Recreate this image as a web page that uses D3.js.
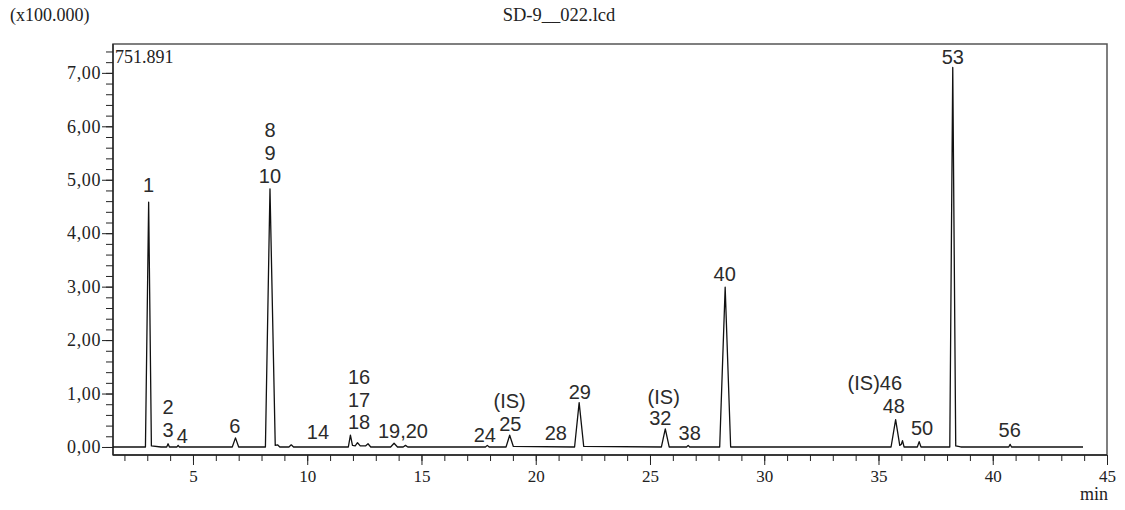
<!DOCTYPE html>
<html><head><meta charset="utf-8">
<script src="https://cdn.jsdelivr.net/npm/d3@7"></script>
<style>
html,body{margin:0;padding:0;background:#fff;}
svg{display:block;}
.ser{font-family:"Liberation Serif","Times New Roman",serif;fill:#222;}
.pk{font-family:"Liberation Sans",Arial,sans-serif;fill:#2b2b2b;}
</style></head>
<body>
<script>
// ---- data ----
const traceTime  = [1.5,2.92,3.06,3.18,3.6,3.85,3.91,3.97,4.3,4.35,4.4,6.72,6.86,7.0,8.17,8.37,8.6,8.7,8.8,9.2,9.3,9.4,11.8,11.89,11.98,12.1,12.2,12.32,12.55,12.66,12.78,13.65,13.8,13.95,14.2,14.3,14.4,17.8,17.88,17.96,18.7,18.86,19.02,21.7,21.9,22.1,25.5,25.67,25.84,26.6,26.67,26.74,28.05,28.29,28.53,35.55,35.75,35.93,36.0,36.05,36.12,36.7,36.78,36.86,38.12,38.25,38.38,38.6,40.7,40.76,40.82,43.95];
const traceValue = [0,0,4.58,0.02,0,0,0.06,0,0,0.03,0,0,0.17,0,0,4.83,0.03,0.04,0,0,0.04,0,0,0.22,0.03,0.02,0.08,0.02,0.02,0.06,0,0,0.07,0,0,0.03,0,0,0.03,0,0,0.22,0.01,0,0.83,0.01,0,0.34,0,0,0.03,0,0,2.99,0,0,0.51,0.03,0.05,0.12,0,0,0.1,0,0,7.1,0.02,0,0,0.05,0,0];
const labelText  = ["1","8","9","10","2","3","4","6","14","16","17","18","19,20","24","(IS)","25","28","29","(IS)","32","38","40","(IS)46","48","50","53","56"];
const labelTime  = [3.06,8.37,8.37,8.37,3.91,3.91,4.53,6.83,10.47,12.27,12.27,12.27,14.19,17.77,18.86,18.89,20.88,21.93,25.6,25.45,26.74,28.27,34.84,35.67,36.91,38.25,40.74];
const labelValue = [4.90,5.93,5.50,5.07,0.75,0.33,0.21,0.39,0.29,1.32,0.89,0.47,0.31,0.22,0.87,0.44,0.27,1.03,0.94,0.55,0.27,3.24,1.20,0.77,0.35,7.30,0.32];
const yMajorTicks = [0,1,2,3,4,5,6,7];
const xMajorTicks = [5,10,15,20,25,30,35,40,45];
const title = "SD-9__022.lcd";
const unitLabel = "(x100.000)";
const maxLabel = "751.891";

// ---- layout ----
const W = 1125, H = 510;
const L = 113, R = 1107, T = 44, B = 455;
const x = d3.scaleLinear().domain([1.5, 45]).range([L, R]);
const y = d3.scaleLinear().domain([-0.15, 7.54]).range([B, T]);

const svg = d3.select("body").append("svg").attr("width", W).attr("height", H);

// frame
svg.append("rect").attr("x", L).attr("y", T).attr("width", R - L).attr("height", B - T)
  .attr("fill", "none").attr("stroke", "#555").attr("stroke-width", 1.5);

// y axis
const yAxisMinor = d3.axisLeft(y).tickValues(d3.range(0, 38).map(i => i * 0.2)).tickSize(7).tickFormat("");
const yAxisMajor = d3.axisLeft(y).tickValues(yMajorTicks).tickSize(11).tickPadding(1)
  .tickFormat(d => d.toFixed(2).replace(".", ","));
const gy1 = svg.append("g").attr("transform", `translate(${L},0)`).call(yAxisMinor);
const gy2 = svg.append("g").attr("transform", `translate(${L},0)`).call(yAxisMajor);
[gy1, gy2].forEach(g => { g.select(".domain").remove(); g.selectAll("line").attr("stroke", "#222"); });
gy2.selectAll("text").attr("class", "ser").attr("font-size", 18).attr("letter-spacing", "0.6px").attr("fill", "#222");

// x axis
const xAxisMinor = d3.axisBottom(x).tickValues(d3.range(2, 46, 1)).tickSize(6).tickFormat("");
const xAxisMajor = d3.axisBottom(x).tickValues(xMajorTicks).tickSize(10).tickPadding(5).tickFormat(d3.format("d"));
const gx1 = svg.append("g").attr("transform", `translate(0,${B})`).call(xAxisMinor);
const gx2 = svg.append("g").attr("transform", `translate(0,${B})`).call(xAxisMajor);
[gx1, gx2].forEach(g => { g.select(".domain").remove(); g.selectAll("line").attr("stroke", "#222"); });
gx2.selectAll("text").attr("class", "ser").attr("font-size", 17).attr("fill", "#222");

// axis lines
svg.append("line").attr("x1", L).attr("x2", L).attr("y1", T).attr("y2", B).attr("stroke", "#222").attr("stroke-width", 1.3);
svg.append("line").attr("x1", L).attr("x2", R).attr("y1", B).attr("y2", B).attr("stroke", "#222").attr("stroke-width", 1.3);

// trace
const pts = traceTime.map((t, i) => [t, traceValue[i]]);
svg.append("path").datum(pts)
  .attr("d", d3.line().x(d => x(d[0])).y(d => y(d[1])))
  .attr("fill", "none").attr("stroke", "#111").attr("stroke-width", 1.3).attr("stroke-linejoin", "round");

// peak labels
svg.append("g").selectAll("text").data(labelText).join("text")
  .attr("class", "pk").attr("font-size", 20).attr("text-anchor", "middle")
  .attr("x", (d, i) => x(labelTime[i])).attr("y", (d, i) => y(labelValue[i])).attr("dy", "0.36em")
  .text(d => d);

// texts
svg.append("text").attr("class", "ser").attr("font-size", 18).attr("x", 10).attr("y", 21).text(unitLabel);
svg.append("text").attr("class", "ser").attr("font-size", 18.5).attr("text-anchor", "middle").attr("x", 559).attr("y", 21).text(title);
svg.append("text").attr("class", "ser").attr("font-size", 18).attr("x", 115).attr("y", 63).text(maxLabel);
svg.append("text").attr("class", "ser").attr("font-size", 18).attr("text-anchor", "end").attr("x", 1108).attr("y", 500).text("min");
</script>
</body></html>
